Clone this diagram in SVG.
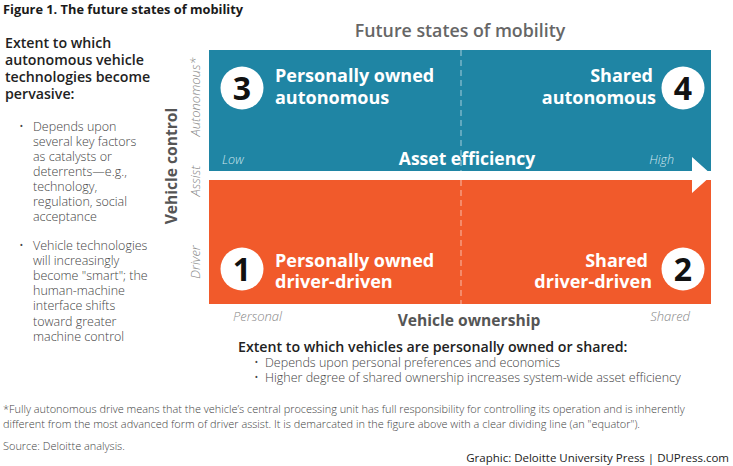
<svg xmlns="http://www.w3.org/2000/svg" width="733" height="466" viewBox="0 0 733 466">
<style>
text{font-family:"Open Sans","Liberation Sans",sans-serif}
.title{font-size:12.8px;font-weight:700;fill:#1a1a1a}
.head{font-size:14.2px;font-weight:600;fill:#222}
.bul{font-size:12.5px;font-weight:300;fill:#444}
.q{font-size:18px;font-weight:700;fill:#fff}
.num{font-size:32px;font-weight:700;fill:#111;text-anchor:middle}
.axis{font-size:15.6px;font-weight:700;fill:#555}
.ax2{font-size:17.5px;font-weight:700;fill:#fff}
.tick{font-size:13px;font-weight:300;font-style:italic;fill:#888}
.tickw{font-size:12.5px;font-weight:300;font-style:italic;fill:#cfe6ee}
.foot{font-size:10.95px;font-weight:300;fill:#444}
.credit{font-size:11.5px;font-weight:400;fill:#222;text-anchor:end}
.circ{fill:#fff}
</style>
<rect width="733" height="466" fill="#fff"/>
<text class="title" x="3" y="13.5">Figure 1. The future states of mobility</text>
<g id="left-text">
<text class="head" x="5" y="48">Extent to which</text>
<text class="head" x="5" y="65">autonomous vehicle</text>
<text class="head" x="5" y="82">technologies become</text>
<text class="head" x="5" y="99">pervasive:</text>
<text class="bul" x="19" y="131">•</text>
<text class="bul" x="33" y="131">Depends upon</text>
<text class="bul" x="33" y="146">several key factors</text>
<text class="bul" x="33" y="161">as catalysts or</text>
<text class="bul" x="33" y="176">deterrents—e.g.,</text>
<text class="bul" x="33" y="191">technology,</text>
<text class="bul" x="33" y="206">regulation, social</text>
<text class="bul" x="33" y="221">acceptance</text>
<text class="bul" x="19" y="250">•</text>
<text class="bul" x="33" y="250">Vehicle technologies</text>
<text class="bul" x="33" y="265">will increasingly</text>
<text class="bul" x="33" y="280">become "smart"; the</text>
<text class="bul" x="33" y="295">human-machine</text>
<text class="bul" x="33" y="310">interface shifts</text>
<text class="bul" x="33" y="326">toward greater</text>
<text class="bul" x="33" y="341">machine control</text>
</g>
<text x="460" y="37" text-anchor="middle" style="font-size:17.8px;font-weight:600;fill:#666">Future states of mobility</text>
<g id="quadrants">
<rect id="q-top" x="209" y="50" width="502" height="121" fill="#1f85a4"/>
<rect id="q-bottom" x="209" y="180" width="502" height="124" fill="#f15a2b"/>
</g>
<g id="connectors">
<line x1="461" y1="50" x2="461" y2="304" stroke="#fff" stroke-opacity="0.6" stroke-width="1" stroke-dasharray="6,4"/>
<polygon points="209,171 692,171 692,157 712,175 692,193 692,180 209,180" fill="#fff"/>
</g>
<g id="node-3">
<circle class="circ" cx="242" cy="88" r="21.5"/>
<text class="num" x="242" y="99.5">3</text>
<text class="q" x="275" y="82">Personally owned</text>
<text class="q" x="275" y="104">autonomous</text>
</g>
<g id="node-4">
<circle class="circ" cx="683" cy="88" r="21.5"/>
<text class="num" x="683" y="99.5">4</text>
<text class="q" x="653" y="82" text-anchor="end">Shared</text>
<text class="q" x="656" y="104" text-anchor="end">autonomous</text>
</g>
<g id="node-1">
<circle class="circ" cx="242" cy="269" r="21.5"/>
<text class="num" x="242" y="280.5">1</text>
<text class="q" x="275" y="267">Personally owned</text>
<text class="q" x="275" y="288">driver-driven</text>
</g>
<g id="node-2">
<circle class="circ" cx="683" cy="269" r="21.5"/>
<text class="num" x="683" y="280.5">2</text>
<text class="q" x="648" y="267" text-anchor="end">Shared</text>
<text class="q" x="652" y="288" text-anchor="end">driver-driven</text>
</g>
<g id="axes">
<text class="ax2" x="467" y="165" text-anchor="middle">Asset efficiency</text>
<text class="tickw" x="222" y="164">Low</text>
<text class="tickw" x="674" y="164" text-anchor="end">High</text>
<text class="axis" x="469" y="326" text-anchor="middle">Vehicle ownership</text>
<text class="tick" x="233" y="321">Personal</text>
<text class="tick" x="690" y="321" text-anchor="end">Shared</text>
<text class="axis" transform="translate(177,166) rotate(-90)" text-anchor="middle">Vehicle control</text>
<text class="tick" transform="translate(200,97) rotate(-90)" text-anchor="middle">Autonomous*</text>
<text class="tick" transform="translate(200,181) rotate(-90)" text-anchor="middle">Assist</text>
<text class="tick" transform="translate(200,262) rotate(-90)" text-anchor="middle">Driver</text>
</g>
<g id="bottom-text">
<text class="head" x="238" y="352">Extent to which vehicles are personally owned or shared:</text>
<text class="bul" x="254" y="367">•</text>
<text class="bul" x="265" y="367">Depends upon personal preferences and economics</text>
<text class="bul" x="254" y="382">•</text>
<text class="bul" x="265" y="382">Higher degree of shared ownership increases system-wide asset efficiency</text>
</g>
<g id="footer">
<text class="foot" x="3" y="413">*Fully autonomous drive means that the vehicle’s central processing unit has full responsibility for controlling its operation and is inherently</text>
<text class="foot" x="3" y="428">different from the most advanced form of driver assist. It is demarcated in the figure above with a clear dividing line (an "equator").</text>
<text class="foot" x="3" y="450">Source: Deloitte analysis.</text>
<text class="credit" x="729" y="462">Graphic: Deloitte University Press  |  DUPress.com</text>
</g>
</svg>
